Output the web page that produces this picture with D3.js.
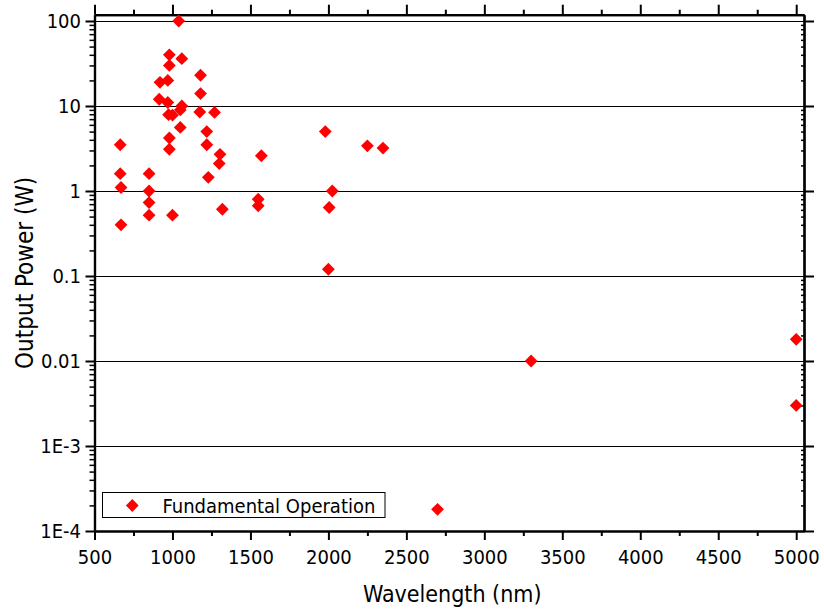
<!DOCTYPE html>
<html>
<head>
<meta charset="utf-8">
<script src="https://cdn.jsdelivr.net/npm/d3@7"></script>
<style>
  html, body { margin: 0; padding: 0; background: #fff; }
  svg { display: block; }
  text { font-family: "DejaVu Sans Condensed", "DejaVu Sans", sans-serif; fill: #000; }
</style>
</head>
<body>
<svg id="chart" width="824" height="612"></svg>
<script>
// Laser output power vs. wavelength (fundamental operation)
const wavelength = [
  1040, 980, 1060, 980, 1180, 920, 970, 1180, 915, 970,
  1060, 1050, 975, 1000, 1175, 1270, 1050, 1220, 1980, 665,
  980, 980, 1220, 2250, 2350, 1305, 1570, 1300, 1230, 665,
  850, 670, 850, 2025, 850, 1550, 1550, 2005, 1320, 850,
  1000, 670, 2000, 3300, 5000, 5000, 2700
];
const power = [
  100, 40, 36, 30, 23, 19, 20, 14, 12, 11,
  10, 9, 7.9, 7.8, 8.5, 8.4, 5.6, 5.0, 5.0, 3.5,
  4.2, 3.1, 3.5, 3.4, 3.2, 2.7, 2.6, 2.1, 1.45, 1.6,
  1.6, 1.1, 1.0, 1.0, 0.73, 0.8, 0.67, 0.64, 0.61, 0.52,
  0.52, 0.4, 0.12, 0.01, 0.018, 0.003, 0.00018
];
const seriesName = "Fundamental Operation";

const xTicks = [500, 1000, 1500, 2000, 2500, 3000, 3500, 4000, 4500, 5000];
const xMinorTicks = [750, 1250, 1750, 2250, 2750, 3250, 3750, 4250, 4750];
const yTicks = [1e-4, 1e-3, 0.01, 0.1, 1, 10, 100];
const yTickLabels = ["1E-4", "1E-3", "0.01", "0.1", "1", "10", "100"];
const xTitle = "Wavelength (nm)";
const yTitle = "Output Power (W)";

const svg = d3.select("#chart");
const plot = { left: 94.5, right: 804, top: 14.7, bottom: 531 };

const x = d3.scaleLinear().domain([500, 5050]).range([plot.left, plot.right]);
const y = d3.scaleLog().domain([1e-4, 118.6]).range([plot.bottom, plot.top]);

// minor log ticks: 2..9 within each decade
const yMinorTicks = [];
yTicks.forEach(d => {
  for (let m = 2; m <= 9; m++) {
    const v = d * m;
    if (v <= y.domain()[1]) yMinorTicks.push(v);
  }
});

// horizontal grid at each decade
svg.append("g")
  .selectAll("line")
  .data(yTicks)
  .join("line")
  .attr("x1", plot.left).attr("x2", plot.right)
  .attr("y1", d => Math.round(y(d)) + 0.5).attr("y2", d => Math.round(y(d)) + 0.5)
  .attr("stroke", "#000").attr("stroke-width", 1);

function styleAxis(g, width) {
  g.select(".domain").attr("stroke", "#000").attr("stroke-width", width);
  g.selectAll(".tick line").attr("stroke", "#000").attr("stroke-width", 2);
}

// bottom axis
const gBottom = svg.append("g").attr("transform", `translate(0,${plot.bottom})`);
gBottom.call(d3.axisBottom(x).tickValues(xTicks).tickSize(9).tickPadding(10).tickSizeOuter(0)
  .tickFormat(d3.format("d")))
  .call(g => styleAxis(g, 2.2))
  .call(g => g.selectAll("text").attr("font-size", 20));
svg.append("g").attr("transform", `translate(0,${plot.bottom})`)
  .call(d3.axisBottom(x).tickValues(xMinorTicks).tickSize(5).tickFormat("").tickSizeOuter(0))
  .call(g => styleAxis(g, 2.2));

// top axis (no labels)
svg.append("g").attr("transform", `translate(0,${plot.top})`)
  .call(d3.axisTop(x).tickValues(xTicks).tickSize(10).tickFormat("").tickSizeOuter(0))
  .call(g => styleAxis(g, 2.2));
svg.append("g").attr("transform", `translate(0,${plot.top})`)
  .call(d3.axisTop(x).tickValues(xMinorTicks).tickSize(5).tickFormat("").tickSizeOuter(0))
  .call(g => styleAxis(g, 2.2));

// left axis
svg.append("g").attr("transform", `translate(${plot.left},0)`)
  .call(d3.axisLeft(y).tickValues(yTicks).tickSize(9).tickPadding(4.5).tickSizeOuter(0)
    .tickFormat((d, i) => yTickLabels[i]))
  .call(g => styleAxis(g, 2.2))
  .call(g => g.selectAll("text").attr("font-size", 20));
svg.append("g").attr("transform", `translate(${plot.left},0)`)
  .call(d3.axisLeft(y).tickValues(yMinorTicks).tickSize(5).tickFormat("").tickSizeOuter(0))
  .call(g => styleAxis(g, 2.2))
  .call(g => g.selectAll(".tick line").attr("stroke-width", 1.5));

// right axis: major ticks outward, minor ticks inward
svg.append("g").attr("transform", `translate(${plot.right},0)`)
  .call(d3.axisRight(y).tickValues(yTicks).tickSize(10).tickFormat("").tickSizeOuter(0))
  .call(g => styleAxis(g, 2.2));
svg.append("g").attr("transform", `translate(${plot.right},0)`)
  .call(d3.axisLeft(y).tickValues(yMinorTicks).tickSize(3).tickFormat("").tickSizeOuter(0))
  .call(g => styleAxis(g, 2.2))
  .call(g => g.selectAll(".tick line").attr("stroke-width", 1.5));

// axis titles
svg.append("text")
  .attr("x", (plot.left + plot.right) / 2 + 3)
  .attr("y", 602)
  .attr("text-anchor", "middle")
  .attr("font-size", 23)
  .text(xTitle);

svg.append("text")
  .attr("transform", `translate(33,${(plot.top + plot.bottom) / 2}) rotate(-90)`)
  .attr("text-anchor", "middle")
  .attr("font-size", 24)
  .text(yTitle);

// data markers
const diamond = d3.symbol().type(d3.symbolSquare).size(82);
const points = wavelength.map((w, i) => ({ w, p: power[i] }));
svg.append("g")
  .selectAll("path")
  .data(points)
  .join("path")
  .attr("d", diamond)
  .attr("transform", d => `translate(${x(d.w)},${y(d.p)}) rotate(45)`)
  .attr("fill", "#ff0000");

// legend
const legend = svg.append("g");
legend.append("rect")
  .attr("x", 102.5).attr("y", 492.5)
  .attr("width", 282.5).attr("height", 25)
  .attr("fill", "#fff").attr("stroke", "#000").attr("stroke-width", 1);
legend.append("path")
  .attr("d", diamond)
  .attr("transform", "translate(132.3,505.5) rotate(45)")
  .attr("fill", "#ff0000");
legend.append("text")
  .attr("x", 162.5).attr("y", 512.5)
  .attr("font-size", 20)
  .text(seriesName);
</script>
</body>
</html>
